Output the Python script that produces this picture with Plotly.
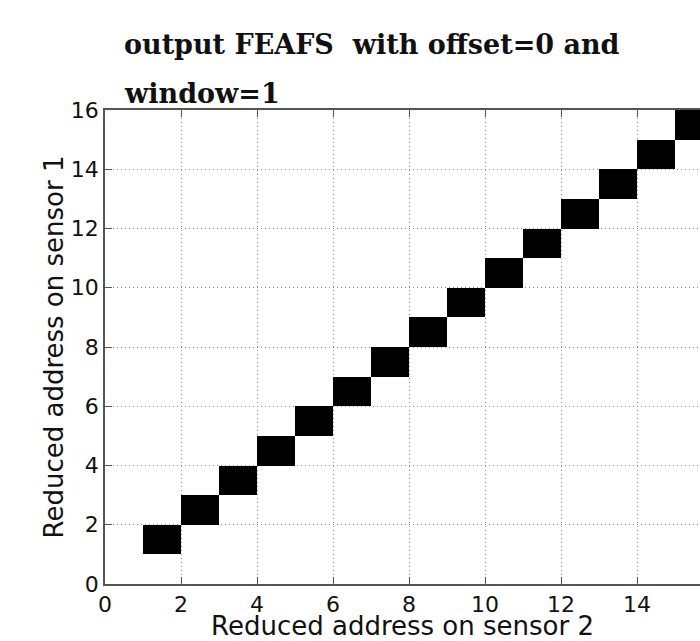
import plotly.graph_objects as go

# Data: active cells (sensor 2 address, sensor 1 address)
sensor2_addr = [1, 2, 3, 4, 5, 6, 7, 8, 9, 10, 11, 12, 13, 14, 15]
sensor1_addr = [1, 2, 3, 4, 5, 6, 7, 8, 9, 10, 11, 12, 13, 14, 15]
n_cells = 16
tick_vals = [0, 2, 4, 6, 8, 10, 12, 14, 16]
title_lines = ["output FEAFS&nbsp; with offset=0 and", "window=1"]
x_title = "Reduced address on sensor 2"
y_title = "Reduced address on sensor 1"

z = [[0] * n_cells for _ in range(n_cells)]
for xs, ys in zip(sensor2_addr, sensor1_addr):
    z[ys][xs] = 1
centers = [i + 0.5 for i in range(n_cells)]

fig = go.Figure(go.Heatmap(
    x=centers, y=centers, z=z,
    colorscale=[[0, "rgba(255,255,255,0)"], [1, "black"]],
    showscale=False, zmin=0, zmax=1, hoverinfo="skip",
))

axis_color = "#555555"
tick_font = dict(family="DejaVu Sans", size=22, color="#111111")
common = dict(
    tickvals=tick_vals, ticks="inside", ticklen=7, tickwidth=1, tickcolor=axis_color,
    showline=True, linecolor=axis_color, linewidth=1.5,
    showgrid=True, gridcolor="#8f8f8f", griddash="1px,3px", gridwidth=1,
    zeroline=False, tickfont=tick_font,
)
fig.update_xaxes(range=[0, 16 * 595 / 608], mirror="ticks", **common,
                 title=dict(text=x_title, font=dict(family="DejaVu Sans", size=26, color="#111111"), standoff=0))
fig.update_yaxes(range=[0, 16], mirror=False, **common,
                 title=dict(text=y_title, font=dict(family="DejaVu Sans", size=26, color="#111111"), standoff=0))

title_font = dict(family="DejaVu Serif", size=27, color="#111111")
fig.add_annotation(text="<b>" + title_lines[0] + "</b>", xref="paper", yref="paper",
                   x=(122 - 105) / 595, y=1 + (110 - 62) / 474, xanchor="left", yanchor="bottom",
                   showarrow=False, font=title_font)
fig.add_annotation(text="<b>" + title_lines[1] + "</b>", xref="paper", yref="paper",
                   x=(122 - 105) / 595, y=1 + (110 - 111) / 474, xanchor="left", yanchor="bottom",
                   showarrow=False, font=title_font)

fig.update_layout(
    width=700, height=641,
    margin=dict(l=105, r=0, t=110, b=57),
    plot_bgcolor="white", paper_bgcolor="white",
)
fig.write_html("out.html")
